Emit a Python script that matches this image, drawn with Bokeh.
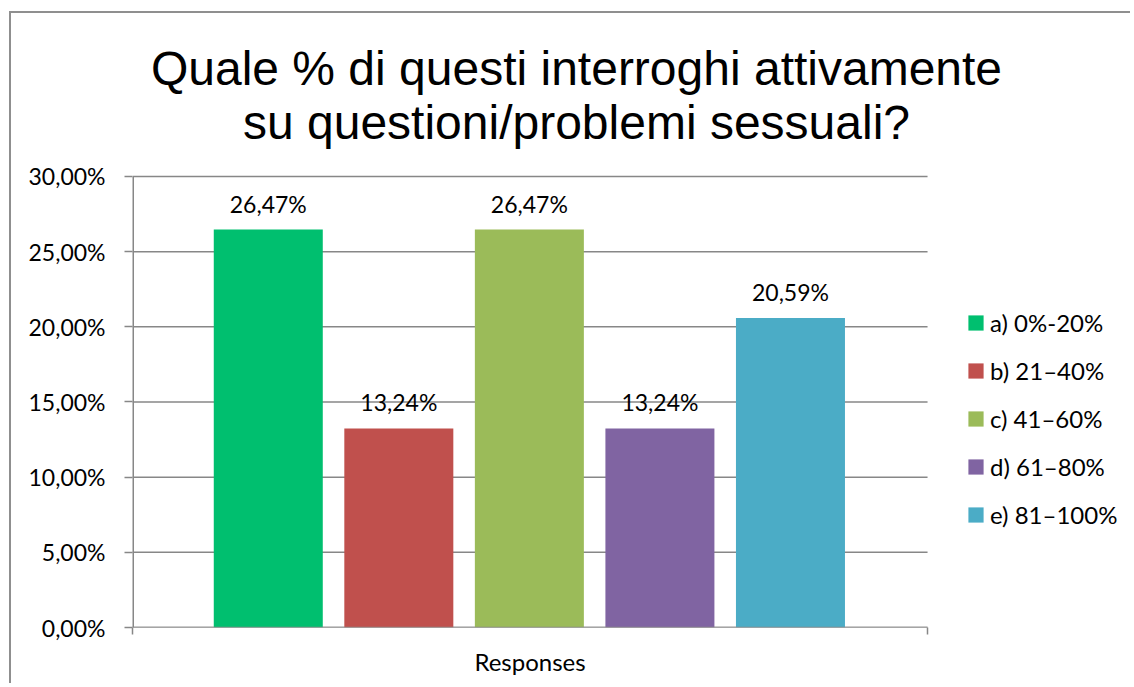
from bokeh.plotting import figure
from bokeh.models import ColumnDataSource, Range1d, FixedTicker, Label, Legend, LegendItem
from bokeh.embed import file_html
from bokeh.resources import INLINE
from bokeh.core.properties import value

# ---- data ----
categories = ["a) 0%-20%", "b) 21–40%", "c) 41–60%", "d) 61–80%", "e) 81–100%"]
values = [26.47, 13.24, 26.47, 13.24, 20.59]
colors = ["#00BF6F", "#C0504D", "#9BBB59", "#8064A2", "#4BACC6"]
y_ticks = [0, 5, 10, 15, 20, 25, 30]
title_lines = ["Quale % di questi interroghi attivamente", "su questioni/problemi sessuali?"]
x_label = "Responses"


def fmt(v):
    return f"{v:.2f}%".replace(".", ",")


positions = list(range(len(categories)))
source = ColumnDataSource(dict(
    x=positions,
    top=values,
    color=colors,
    label=categories,
    text=[fmt(v) for v in values],
))

# plot-area extent (category axis) and extra room for legend / title
X0, X1 = -1.04, 5.05
XR = 6.62            # frame extends right to hold the legend
YMAX = 40.84         # frame extends up to hold the title
YTOP = y_ticks[-1]
XMID = (X0 + X1) / 2

GRAY = "#878787"
FONT = "Lato"
FS = "23px"

p = figure(width=1121, height=672,
           x_range=Range1d(X0, XR), y_range=Range1d(0, YMAX),
           output_backend="svg", toolbar_location=None,
           min_border_left=121, min_border_right=0,
           min_border_top=0, min_border_bottom=58)
p.styles = {"margin-left": "9px", "margin-top": "11px",
            "border-left": "2px solid #8f8f8f", "border-top": "2px solid #8f8f8f"}
p.title.text = ""
p.title.visible = False

p.background_fill_color = "white"
p.border_fill_color = "white"
p.outline_line_color = None

# gridlines (only across the plot area) and y axis line
p.segment(x0=X0, x1=X1, y0=y_ticks, y1=y_ticks, line_color=GRAY, line_width=1.5)
p.segment(x0=X0, x1=X0, y0=0, y1=YTOP, line_color=GRAY, line_width=3)

bars = p.vbar(x="x", top="top", width=0.835, bottom=0, color="color",
              line_color=None, source=source)
# x axis line drawn over the bars' base
p.segment(x0=X0, x1=X1, y0=0, y1=0, line_color=GRAY, line_width=1.5)

p.text(x="x", y="top", text="text", source=source,
       text_align="center", text_baseline="bottom", y_offset=-12,
       text_font=value(FONT), text_font_size=FS, text_color="#000000")

# y axis
p.yaxis.ticker = FixedTicker(ticks=y_ticks)
p.yaxis.major_label_overrides = {t: fmt(t) for t in y_ticks}
p.yaxis.axis_line_color = None
p.yaxis.major_tick_line_color = GRAY
p.yaxis.major_tick_line_width = 1.5
p.yaxis.major_tick_out = 8
p.yaxis.major_tick_in = 0
p.yaxis.minor_tick_line_color = None
p.yaxis.major_label_text_font = FONT
p.yaxis.major_label_text_font_size = FS
p.yaxis.major_label_text_color = "#000000"
p.yaxis.major_label_standoff = 19

# x axis: one category label, end ticks as minor ticks
p.xaxis.ticker = FixedTicker(ticks=[XMID], minor_ticks=[X0, X1])
p.xaxis.major_label_overrides = {XMID: x_label}
p.xaxis.axis_line_color = None
p.xaxis.major_tick_line_color = None
p.xaxis.major_tick_out = 0
p.xaxis.major_tick_in = 0
p.xaxis.minor_tick_line_color = GRAY
p.xaxis.minor_tick_line_width = 1.5
p.xaxis.minor_tick_out = 7
p.xaxis.minor_tick_in = 0
p.xaxis.major_label_text_font = FONT
p.xaxis.major_label_text_font_size = "24px"
p.xaxis.major_label_text_color = "#000000"
p.xaxis.major_label_standoff = 12

p.xgrid.visible = False
p.ygrid.visible = False

# title: two centred lines
for i, line in enumerate(title_lines):
    p.add_layout(Label(x=444, y=559 - 54 * i, x_units="screen", y_units="screen",
                       text=line, text_align="center", text_baseline="middle",
                       text_font="Liberation Sans", text_font_size="48px",
                       text_color="#000000"))

# legend
items = [LegendItem(label=c, renderers=[bars], index=i) for i, c in enumerate(categories)]
lg = Legend(items=items, location=(834, 98))
lg.glyph_width = 19
lg.glyph_height = 19
lg.label_standoff = 5
lg.label_text_font = FONT
lg.label_text_font_size = "24px"
lg.label_text_color = "#000000"
lg.spacing = 19
lg.padding = 0
lg.margin = 0
lg.border_line_color = None
lg.background_fill_alpha = 0
p.add_layout(lg)

open("out.html", "w").write(file_html(p, INLINE))
